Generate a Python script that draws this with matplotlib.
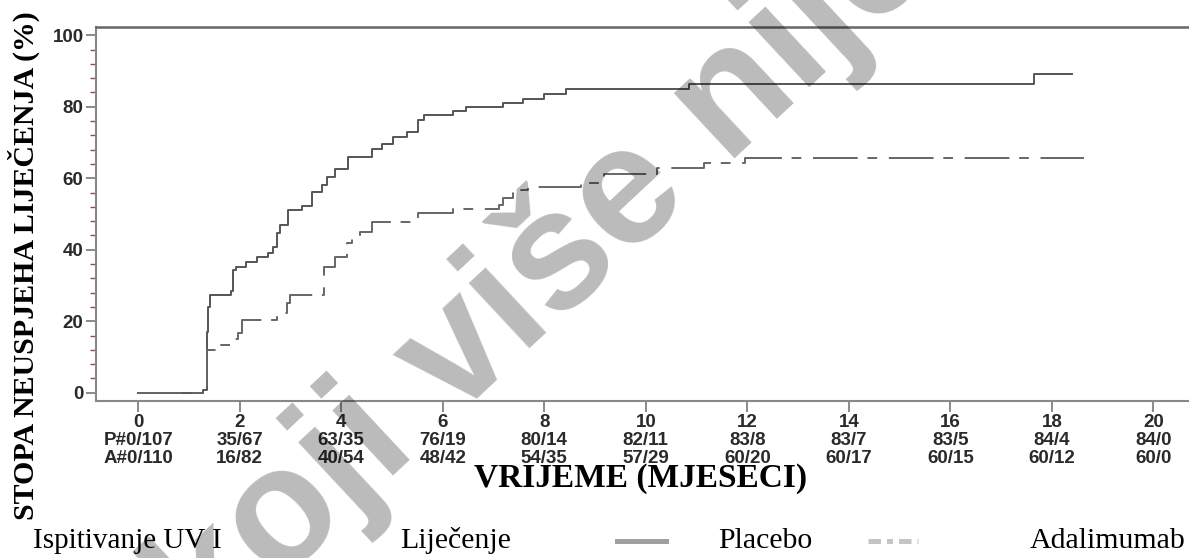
import numpy as np
import matplotlib.pyplot as plt
from matplotlib.lines import Line2D
from matplotlib.ticker import MultipleLocator

# months on the x axis and numbers at risk (events / at risk) below each tick
months = [0, 2, 4, 6, 8, 10, 12, 14, 16, 18, 20]
placebo_risk = ['P#0/107', '35/67', '63/35', '76/19', '80/14', '82/11',
                '83/8', '83/7', '83/5', '84/4', '84/0']
adalimumab_risk = ['A#0/110', '16/82', '40/54', '48/42', '54/35', '57/29',
                   '60/20', '60/17', '60/15', '60/12', '60/0']

# cumulative treatment failure (%), step changes
placebo_t = [0, 1.28, 1.35, 1.38, 1.42, 1.82, 1.86, 1.92, 2.12, 2.34, 2.56,
             2.66, 2.74, 2.80, 2.96, 3.23, 3.43, 3.62, 3.72, 3.88, 4.14,
             4.61, 4.81, 5.02, 5.30, 5.51, 5.63, 6.20, 6.45, 7.19, 7.59,
             7.99, 8.43, 10.86, 17.64, 18.40]
placebo_v = [0, 0.9, 17.0, 24.0, 27.4, 28.4, 34.4, 35.3, 36.6, 38.1, 39.2,
             40.9, 44.7, 46.9, 51.1, 52.2, 56.1, 58.1, 60.4, 62.5, 65.9,
             68.1, 69.5, 71.6, 72.9, 76.3, 77.6, 78.8, 80.0, 81.1, 82.3,
             83.7, 84.9, 86.3, 89.1, 89.1]

adalimumab_t = [0, 1.36, 1.54, 1.81, 1.97, 2.04, 2.73, 2.93, 3.00, 3.66,
                3.88, 4.11, 4.22, 4.37, 4.60, 5.52, 6.21, 7.10, 7.19, 7.39,
                7.68, 8.73, 9.18, 10.23, 11.15, 11.95, 18.64]
adalimumab_v = [0, 12.0, 13.4, 15.1, 16.8, 20.4, 22.3, 25.1, 27.4, 35.3,
                38.1, 41.8, 43.7, 45.1, 47.8, 50.2, 51.3, 52.5, 54.4, 56.7,
                57.6, 58.7, 61.3, 62.8, 64.2, 65.8, 65.8]

W, H = 1189, 558
fig = plt.figure(figsize=(W / 100, H / 100), dpi=100)
ax = fig.add_axes([96 / W, 1 - 401 / H, 1 - 96 / W, (401 - 27) / H])

ax.step(placebo_t, placebo_v, where='post', color='#555555', lw=1.4)
ax.step(adalimumab_t, adalimumab_v, where='post', color='#666666', lw=1.4,
        dashes=(23, 5, 5, 6))

ax.set_xlim(-0.83, 20.7)
ax.set_ylim(-2.3, 102.3)

ax.set_xticks(months)
ax.set_xticklabels([f'{m}\n{p}\n{a}' for m, p, a in
                    zip(months, placebo_risk, adalimumab_risk)],
                   linespacing=1.08)
ax.set_yticks(range(0, 101, 20))
ax.yaxis.set_minor_locator(MultipleLocator(4))

tick_font = dict(family='Liberation Sans', weight='bold', size=13.5)
for lab in ax.get_xticklabels() + ax.get_yticklabels():
    lab.set_fontproperties(tick_font)
    lab.set_color('#2a2a2a')

ax.tick_params(axis='x', which='major', length=8, width=1.2,
               color='#777777', pad=1.5)
ax.tick_params(axis='y', which='major', length=7, width=1.2,
               color='#777777', pad=2)
ax.tick_params(axis='y', which='minor', length=4, width=1.0,
               color='#8a4b5c')

ax.spines['right'].set_visible(False)
ax.spines['top'].set_color('#666666')
ax.spines['top'].set_linewidth(1.8)
for s in ('left', 'bottom'):
    ax.spines[s].set_color('#888888')
    ax.spines[s].set_linewidth(1.5)

serif = 'Liberation Serif'
fig.text(24 / W, 1 - 266 / H, 'STOPA NEUSPJEHA LIJEČENJA (%)',
         rotation=90, ha='center', va='center', family=serif,
         weight='bold', size=21.5)
fig.text(641 / W, 1 - 479 / H, 'VRIJEME (MJESECI)', ha='center',
         va='center', family=serif, weight='bold', size=24)

# legend row along the bottom
ly = 1 - 541 / H
fig.text(33 / W, ly, 'Ispitivanje UV I', ha='left', va='center',
         family=serif, size=21)
fig.text(400 / W, ly, 'Liječenje', ha='left', va='center',
         family=serif, size=21.5)
fig.add_artist(Line2D([617 / W, 666 / W], [ly, ly], color='#a0a0a0',
                      lw=3.6, transform=fig.transFigure))
fig.text(718 / W, ly, 'Placebo', ha='left', va='center',
         family=serif, size=21.5)
fig.add_artist(Line2D([868 / W, 918 / W], [ly, ly], color='#c4c4c4',
                      lw=3.6, dashes=(2.5, 1.2, 1.2, 1.2),
                      transform=fig.transFigure))
fig.text(1030 / W, ly, 'Adalimumab', ha='left', va='center',
         family=serif, size=21.5)

# diagonal watermark
fig.text(-106 / W, 1 - 942 / H, 'Lijek koji više nije odobren',
         family='Liberation Sans', weight='bold', size=121, rotation=43,
         rotation_mode='anchor', ha='left', va='baseline',
         color='black', alpha=0.27, zorder=10)

fig.savefig('out.png', dpi=100)
